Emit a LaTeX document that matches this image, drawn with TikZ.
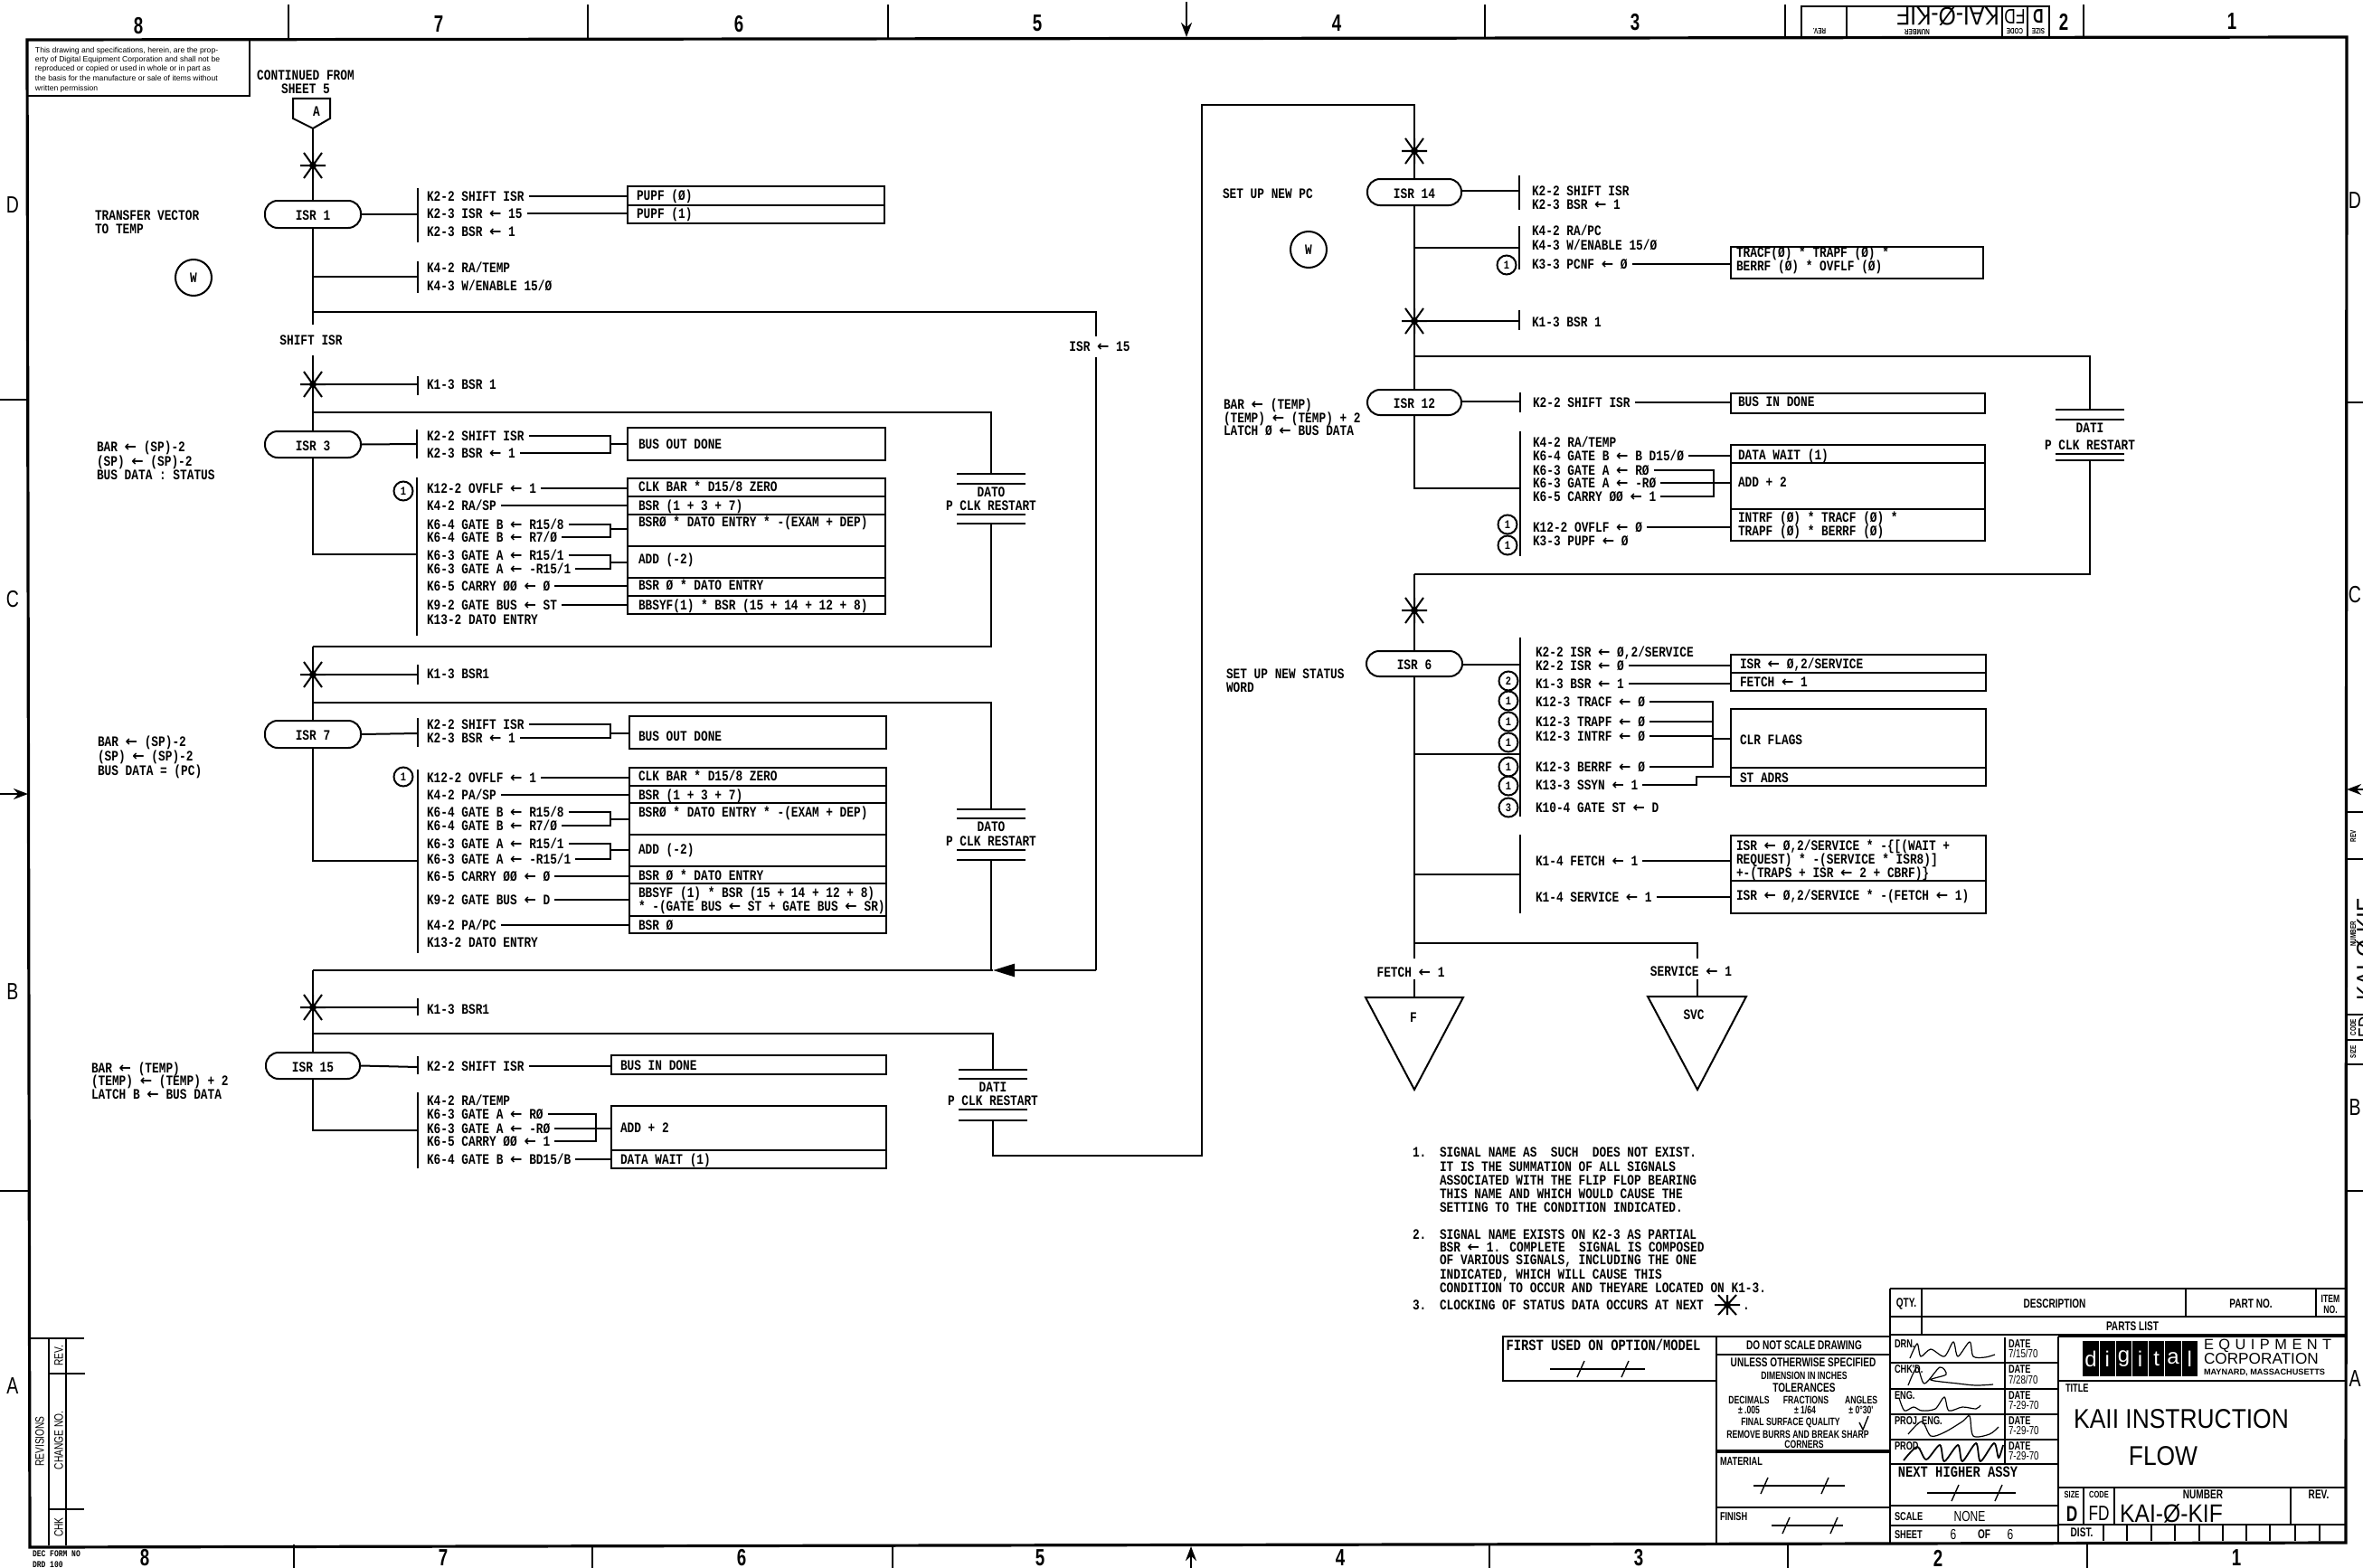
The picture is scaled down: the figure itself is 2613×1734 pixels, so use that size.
\documentclass[tikz,border=0pt]{standalone}
\usepackage{fontspec}
\usetikzlibrary{fit,arrows.meta}
\setmainfont{Liberation Sans}
\newfontfamily\drfam[FakeStretch=0.8]{Liberation Mono}
\newfontfamily\drbold[FakeStretch=0.8]{Liberation Mono Bold}
\newfontfamily\tbfam[FakeStretch=0.72]{Liberation Sans Bold}
\newfontfamily\thinfam[FakeStretch=0.75]{Liberation Sans}
\newfontfamily\titlefam[FakeStretch=0.88]{Liberation Sans}
\newfontfamily\arfam{DejaVu Sans Bold}
\catcode`\←=13
\def←{{\arfam\fontsize{8}{9}\selectfont\char"2190 }}
\newcommand\drf{\drbold\fontsize{8}{9}\selectfont}
\newcommand\drw{\drbold\fontsize{8.6}{9}\selectfont}
\newcounter{tn}
\newcommand\Tx[4][]{\stepcounter{tn}\node[#1] (t\arabic{tn}) at (#2,#3) {#4};}
\def\sigx{472}
\newcommand\sig[3]{\node[lab] (#1) at (\sigx,#2) {#3};}
\newcommand\sbar[5]{\draw (#2,#3) -- (#2,#4);\coordinate (#1) at (#2,#5);}
\newcommand\bx[5]{\node[boxn,fit={(#2,#3)(#4,#5)}] (#1) {};}
\newcommand\pl[6]{\node[pill,fit={(#2,#3)(#4,#5)}] (#1) {};\node[ctr] (#1-t) at ([yshift=-.7pt]#1.center) {#6};}
\newcommand\dv[2]{\draw (#1.west |- 0,#2) -- (#1.east |- 0,#2);}
\newcommand\asterx[2]{\draw[shift={(#1,#2)}] (-14,0) -- (14,0) (-10,-14) -- (10,14) (10,-14) -- (-10,14) (0,-14) -- (0,14);\fill[shift={(#1,#2)}] (0,0) circle (2pt);}
\newcommand\capac[7]{\draw (#2-38,#3) -- (#2+38,#3) (#2-38,#4) -- (#2+38,#4) (#2-38,#5) -- (#2+38,#5) (#2-38,#6) -- (#2+38,#6);
 \coordinate (#1-t) at (#2,#3);\coordinate (#1-b) at (#2,#6);
 \node[ctr] (#1-n) at (#2,#4+9) {#7};\node[ctr] (#1-p) at (#2,#5-10) {P CLK RESTART};}
\newcommand\brk[5]{\draw (#1.east) -- (#1.east -| #4,0) -- (#2.east -| #4,0) -- (#2.east);\coordinate (#1j) at (#4,#5);\draw (#1j) -- (#1j -| #3.west);}
\newcommand\lead[2]{\draw (#1.east) -- (#1.east -| #2.west);}
\tikzset{
 lab/.style={anchor=west,inner ysep=0pt,inner xsep=0pt,outer xsep=2.5pt,xshift=-2.5pt,text height=5.3pt,text depth=0pt,font=\drf},
 ctr/.style={inner sep=0pt,text height=5.3pt,text depth=0pt,font=\drf},
 wid/.style={inner sep=0pt,text height=5.3pt,text depth=0pt,font=\drw},
 boxn/.style={draw,inner sep=0pt},
 pill/.style={draw,inner sep=0pt,rounded corners=7pt},
 circ/.style={draw,circle,inner sep=0pt,minimum size=10.5pt,font=\drf\fontsize{6.5}{7}\selectfont},
 bigc/.style={draw,circle,inner sep=0pt,minimum size=20pt,font=\drf},
 zone/.style={inner sep=0pt,font=\thinfam\fontsize{13}{14}\selectfont},
 zoneb/.style={inner sep=0pt,font=\tbfam\fontsize{13}{14}\selectfont},
 tb/.style={inner sep=0pt,font=\tbfam\fontsize{7}{8}\selectfont},
 tbs/.style={inner sep=0pt,font=\tbfam\fontsize{6}{7}\selectfont},
 tbl/.style={inner sep=0pt,anchor=west,font=\tbfam\fontsize{6.4}{7}\selectfont},
 thn/.style={inner sep=0pt,font=\titlefam\fontsize{15}{16}\selectfont},
 thm/.style={inner sep=0pt,font=\titlefam\fontsize{14}{15}\selectfont},
 fdm/.style={inner sep=0pt,font=\thinfam\fontsize{11.5}{12}\selectfont},
 stub/.style={inner sep=0pt,font=\tbfam\fontsize{4.4}{5}\selectfont},
 rev/.style={inner sep=0pt,rotate=90,font=\thinfam\fontsize{6.8}{7}\selectfont},
 sigp/.style={line width=.6pt,smooth},
}
\begin{document}
\begin{tikzpicture}[x=0.5pt,y=-0.5pt,line width=1pt]
\fill[white] (0,0) rectangle (2613,1734);
\useasboundingbox (0,0) rectangle (2613,1734);
% frame
\draw[line width=1.6pt] (30,44) -- (2595,41) -- (2594,1706) -- (33,1711) -- cycle;
% zone ticks
\foreach \x in {319,650,982,1642,1974,2304} \draw (\x,5) -- (\x,42);
\foreach \x in {325,655,987,1647,1977,2308} \draw (\x,1708) -- (\x,1734);
\foreach \y in {442,1317} \draw (0,\y) -- (31,\y);
\foreach \y in {445,1317} \draw (2594,\y) -- (2613,\y);
\draw[-{Stealth[length=8pt,width=6pt]},line width=1.2pt] (1312,2) -- (1312,41);
\draw[-{Stealth[length=8pt,width=6pt]},line width=1.2pt] (1317,1734) -- (1317,1710);
\draw[-{Stealth[length=8pt,width=6pt]},line width=1.2pt] (0,878) -- (31,878);
\draw[-{Stealth[length=8pt,width=6pt]},line width=1.2pt] (2613,873) -- (2595,873);
\Tx[zoneb]{153}{29}{8}\Tx[zoneb]{485}{27}{7}\Tx[zoneb]{817}{27}{6}\Tx[zoneb]{1147}{26}{5}\Tx[zoneb]{1478}{26}{4}\Tx[zoneb]{1808}{25}{3}\Tx[zoneb]{2282}{24}{2}\Tx[zoneb]{2468}{24}{1}
\Tx[zoneb]{160}{1723}{8}\Tx[zoneb]{490}{1723}{7}\Tx[zoneb]{820}{1723}{6}\Tx[zoneb]{1150}{1723}{5}\Tx[zoneb]{1482}{1723}{4}\Tx[zoneb]{1812}{1723}{3}\Tx[zoneb]{2143}{1723}{2}\Tx[zoneb]{2473}{1723}{1}
\Tx[zone]{14}{227}{D}\Tx[zone]{14}{663}{C}\Tx[zone]{14}{1097}{B}\Tx[zone]{14}{1533}{A}
\Tx[zone]{2604}{222}{D}\Tx[zone]{2604}{658}{C}\Tx[zone]{2604}{1225}{B}\Tx[zone]{2604}{1525}{A}
% notice
\node[boxn,fit={(30,44)(276,106)}] (notice) {};
\foreach \y/\t [count=\i] in {56/This drawing and specifications{,} herein{,} are the prop-,66/erty of Digital Equipment Corporation and shall not be,76/reproduced or copied or used in whole or in part as,86/the basis for the manufacture or sale of items without,98/written permission}
 \node[anchor=west,inner sep=0pt,font=\fontsize{4.3}{5}\selectfont] (nt\i) at (38,\y) {\t};
% revision strip
\draw (54,1480) -- (54,1709) (73,1480) -- (73,1709);
\draw[line width=1.4pt] (33,1480) -- (93,1480);
\draw (54,1519) -- (94,1519) (54,1669) -- (93,1669);
\Tx[rev]{44}{1594}{REVISIONS}\Tx[rev]{65}{1499}{REV.}\Tx[rev]{65}{1593}{CHANGE NO.}\Tx[rev]{65}{1689}{CHK}
\Tx[inner sep=0pt,anchor=west,font=\drbold\fontsize{5}{6}\selectfont]{35}{1718}{DEC FORM NO}
\Tx[inner sep=0pt,anchor=west,font=\drbold\fontsize{5}{6}\selectfont]{35}{1730}{DRD 100}
% top stub
\draw (1992,41) -- (1992,7) -- (2266,7) -- (2266,41) (2042,7) -- (2042,41) (2214,7) -- (2214,41) (2242,7) -- (2242,41);
\Tx[stub,rotate=180]{2012}{35}{REV.}\Tx[stub,rotate=180]{2120}{35}{NUMBER}\Tx[stub,rotate=180]{2228}{35}{CODE}\Tx[stub,rotate=180]{2254}{35}{SIZE}
\Tx[thm,rotate=180]{2154}{18}{KAI-Ø-KIF}\Tx[fdm,rotate=180]{2228}{18}{FD}\Tx[tb,rotate=180,font=\tbfam\fontsize{11}{12}\selectfont]{2254}{18}{D}
% right stub
\foreach \y in {898,950,1122,1150,1177} \draw (2594,\y) -- (2613,\y);
\Tx[stub,rotate=90]{2602}{925}{REV}\Tx[stub,rotate=90]{2602}{1033}{NUMBER}\Tx[stub,rotate=90]{2602}{1136}{CODE}\Tx[stub,rotate=90]{2602}{1163}{SIZE}
\Tx[thm,rotate=90]{2616}{1050}{KAI-Ø-KIF}\Tx[fdm,rotate=90]{2616}{1136}{FD}
%% ---------- LEFT COLUMN
\Tx[ctr]{338}{83}{CONTINUED FROM}\Tx[ctr]{338}{98}{SHEET 5}
\draw (324,109) -- (365,109) -- (365,131) -- (346,142) -- (324,131) -- cycle;
\coordinate (tipA) at (346,142);
\Tx[ctr]{350}{123}{A}
% ISR 1
\pl{isr1}{293}{222}{399}{252}{ISR 1}
\draw (tipA) -- (isr1.north);
\asterx{346}{183}
\Tx[lab]{105}{238}{TRANSFER VECTOR}\Tx[lab]{105}{253}{TO TEMP}
\node[bigc] (wa) at (214,307) {W};
\sbar{s1}{462}{208}{268}{237}
\draw (isr1.east) -- (s1);
\sig{a1}{217}{K2-2 SHIFT ISR}\sig{a2}{236}{K2-3 ISR ← 15}\sig{a3}{256}{K2-3 BSR ← 1}
\bx{b1}{694}{206}{978}{247}\dv{b1}{227}
\Tx[lab]{704}{216}{PUPF (Ø)}\Tx[lab]{704}{236}{PUPF (1)}
\lead{a1}{b1}\lead{a2}{b1}
\sbar{s2}{462}{289}{324}{306}
\sig{a4}{296}{K4-2 RA/TEMP}\sig{a5}{316}{K4-3 W/ENABLE 15/Ø}
% ISR 3
\pl{isr3}{293}{477}{399}{506}{ISR 3}
\draw (isr1.south) -- (isr3.north);
\draw (s2) -- (s2 -| isr1.south);
\coordinate (jlong) at (346,345);\coordinate (jr1) at (1212,345);\coordinate (jr2) at (1212,372);\coordinate (jr3) at (1212,395);\coordinate (jr4) at (1212,1073);\coordinate (merge) at (1098,1073);\coordinate (jm) at (346,1073);
\draw (jlong) -- (jr1) -- (jr2);
\draw (jr3) -- (jr4);
\draw[line width=1.4pt,-{Triangle[length=12pt,width=7pt]}] (jr4) -- (merge);
\draw[line width=1.4pt] (merge) -- (jm);
\node[ctr] (isr15lab) at (1216,383) {ISR ← 15};
\node[ctr,fill=white,inner ysep=6pt] (shiftisr) at (344,376) {SHIFT ISR};
\asterx{346}{425}
\sbar{s3}{462}{416}{437}{425}\draw (346,425) -- (s3);
\sig{a6}{425}{K1-3 BSR 1}
\Tx[lab]{107}{494}{BAR ← (SP)-2}\Tx[lab]{107}{510}{(SP) ← (SP)-2}\Tx[lab]{107}{525}{BUS DATA : STATUS}
\coordinate (l3a) at (346,456);\coordinate (l3b) at (346,715);
\capac{c3}{1096}{524}{535}{569}{579}{DATO}
\draw (l3a) -| (c3-t);\draw (c3-b) |- (l3b);
\sbar{s4}{461}{475}{507}{491}\draw (isr3.east) -- (s4);
\sig{c1}{482}{K2-2 SHIFT ISR}\sig{c2}{501}{K2-3 BSR ← 1}
\bx{b3a}{694}{473}{979}{509}
\Tx[lab]{706}{491}{BUS OUT DONE}
\brk{c1}{c2}{b3a}{675}{491}
\sbar{s5}{461}{528}{703}{613}
\coordinate (r3) at (346,613);\draw (isr3.south) -- (r3) -- (s5);
\node[circ] (q3) at (446,543) {1};
\sig{c3a}{540}{K12-2 OVFLF ← 1}\sig{c4}{559}{K4-2 RA/SP}\sig{c5}{580}{K6-4 GATE B ← R15/8}\sig{c6}{594}{K6-4 GATE B ← R7/Ø}\sig{c7}{614}{K6-3 GATE A ← R15/1}\sig{c8}{629}{K6-3 GATE A ← -R15/1}\sig{c9}{648}{K6-5 CARRY ØØ ← Ø}\sig{c10}{669}{K9-2 GATE BUS ← ST}\sig{c11}{685}{K13-2 DATO ENTRY}
\bx{b3b}{694}{529}{979}{679}\dv{b3b}{549}\dv{b3b}{569}\dv{b3b}{604}\dv{b3b}{639}\dv{b3b}{659}
\Tx[lab]{706}{538}{CLK BAR * D15/8 ZERO}\Tx[lab]{706}{559}{BSR (1 + 3 + 7)}\Tx[lab]{706}{577}{BSRØ * DATO ENTRY * -(EXAM + DEP)}\Tx[lab]{706}{618}{ADD (-2)}\Tx[lab]{706}{647}{BSR Ø * DATO ENTRY}\Tx[lab]{706}{669}{BBSYF(1) * BSR (15 + 14 + 12 + 8)}
\lead{c3a}{b3b}\lead{c4}{b3b}\lead{c9}{b3b}\lead{c10}{b3b}
\brk{c5}{c6}{b3b}{675}{585}\brk{c7}{c8}{b3b}{675}{622}
% ISR 7
\pl{isr7}{293}{797}{399}{827}{ISR 7}
\draw (l3b) -- (isr7.north);
\asterx{346}{746}
\sbar{s6}{462}{735}{757}{746}\draw (346,746) -- (s6);
\sig{d0}{745}{K1-3 BSR1}
\Tx[lab]{108}{820}{BAR ← (SP)-2}\Tx[lab]{108}{836}{(SP) ← (SP)-2}\Tx[lab]{108}{852}{BUS DATA = (PC)}
\coordinate (l7a) at (346,777);
\capac{c7c}{1096}{895}{905}{940}{951}{DATO}
\draw (l7a) -| (c7c-t);\draw (c7c-b) -- (c7c-b |- merge);
\sbar{s7}{462}{794}{826}{811}\draw (isr7.east) -- (s7);
\sig{d1}{801}{K2-2 SHIFT ISR}\sig{d2}{816}{K2-3 BSR ← 1}
\bx{b7a}{696}{792}{980}{828}
\Tx[lab]{706}{814}{BUS OUT DONE}
\brk{d1}{d2}{b7a}{675}{811}
\sbar{s8}{462}{851}{1054}{952}
\coordinate (r7) at (346,952);\draw (isr7.south) -- (r7) -- (s8);
\node[circ] (q7) at (446,859) {1};
\sig{d3}{860}{K12-2 OVFLF ← 1}\sig{d4}{879}{K4-2 PA/SP}\sig{d5}{898}{K6-4 GATE B ← R15/8}\sig{d6}{913}{K6-4 GATE B ← R7/Ø}\sig{d7}{933}{K6-3 GATE A ← R15/1}\sig{d8}{950}{K6-3 GATE A ← -R15/1}\sig{d9}{969}{K6-5 CARRY ØØ ← Ø}\sig{d10}{995}{K9-2 GATE BUS ← D}\sig{d11}{1023}{K4-2 PA/PC}\sig{d12}{1042}{K13-2 DATO ENTRY}
\bx{b7b}{696}{849}{980}{1032}\dv{b7b}{869}\dv{b7b}{888}\dv{b7b}{923}\dv{b7b}{958}\dv{b7b}{977}\dv{b7b}{1013}
\Tx[lab]{706}{858}{CLK BAR * D15/8 ZERO}\Tx[lab]{706}{879}{BSR (1 + 3 + 7)}\Tx[lab]{706}{898}{BSRØ * DATO ENTRY * -(EXAM + DEP)}\Tx[lab]{706}{939}{ADD (-2)}\Tx[lab]{706}{968}{BSR Ø * DATO ENTRY}\Tx[lab]{706}{987}{BBSYF (1) * BSR (15 + 14 + 12 + 8)}\Tx[lab]{706}{1002}{* -(GATE BUS ← ST + GATE BUS ← SR)}\Tx[lab]{706}{1023}{BSR Ø}
\lead{d3}{b7b}\lead{d4}{b7b}\lead{d9}{b7b}\lead{d10}{b7b}\lead{d11}{b7b}
\brk{d5}{d6}{b7b}{675}{906}\brk{d7}{d8}{b7b}{675}{940}
% ISR 15
\pl{isr15}{294}{1164}{398}{1193}{ISR 15}
\draw (jm) -- (isr15.north);
\asterx{346}{1114}
\sbar{s9}{462}{1104}{1123}{1114}\draw (346,1114) -- (s9);
\sig{e0}{1116}{K1-3 BSR1}
\Tx[lab]{101}{1181}{BAR ← (TEMP)}\Tx[lab]{101}{1195}{(TEMP) ← (TEMP) + 2}\Tx[lab]{101}{1210}{LATCH B ← BUS DATA}
\coordinate (l15a) at (346,1143);
\capac{c15}{1098}{1183}{1193}{1227}{1239}{DATI}
\draw (l15a) -| (c15-t);
\coordinate (e1c) at (1329,1278);\coordinate (e2c) at (1329,116);
\sbar{s10}{462}{1168}{1188}{1180}\draw (isr15.east) -- (s10);
\sig{e1}{1179}{K2-2 SHIFT ISR}
\bx{b15a}{676}{1167}{980}{1188}
\Tx[lab]{686}{1178}{BUS IN DONE}
\lead{e1}{b15a}
\sbar{s11}{462}{1208}{1292}{1250}
\coordinate (r15) at (346,1250);\draw (isr15.south) -- (r15) -- (s11);
\sig{e2}{1217}{K4-2 RA/TEMP}\sig{e3}{1232}{K6-3 GATE A ← RØ}\sig{e4}{1248}{K6-3 GATE A ← -RØ}\sig{e5}{1262}{K6-5 CARRY ØØ ← 1}\sig{e6}{1282}{K6-4 GATE B ← BD15/B}
\bx{b15b}{676}{1223}{980}{1292}\dv{b15b}{1272}
\Tx[lab]{686}{1247}{ADD + 2}\Tx[lab]{686}{1282}{DATA WAIT (1)}
\lead{e4}{b15b}\lead{e6}{b15b}
\draw (e3.east) -- (e3.east -| 659,0) -- (e5.east -| 659,0) -- (e5.east);
%% ---------- RIGHT COLUMN
\pl{isr14}{1512}{198}{1616}{227}{ISR 14}
\draw (c15-b) |- (e1c) -- (e2c) -| (isr14.north);
\asterx{1564}{167}
\Tx[lab]{1352}{214}{SET UP NEW PC}
\node[bigc] (wb) at (1447,276) {W};
\def\sigx{1694}
\sbar{t1}{1680}{194}{232}{211}\draw (isr14.east |- t1) -- (t1);
\sig{f1}{211}{K2-2 SHIFT ISR}\sig{f2}{226}{K2-3 BSR ← 1}
\sbar{t2}{1680}{250}{298}{274}
\sig{f3}{255}{K4-2 RA/PC}\sig{f4}{271}{K4-3 W/ENABLE 15/Ø}\sig{f5}{292}{K3-3 PCNF ← Ø}
\node[circ] (q14) at (1666,293) {1};
\bx{b14}{1914}{273}{2193}{308}
\Tx[lab]{1920}{279}{TRACF(Ø) * TRAPF (Ø) *}\Tx[lab]{1920}{294}{BERRF (Ø) * OVFLF (Ø)}
\lead{f5}{b14}
\pl{isr12}{1512}{431}{1616}{459}{ISR 12}
\draw (isr14.south) -- (isr12.north);
\draw (t2) -- (t2 -| isr14.south);
\asterx{1564}{355}
\sbar{t3}{1680}{343}{365}{355}\draw (1564,355) -- (t3);
\sig{f6}{356}{K1-3 BSR 1}
\coordinate (l12a) at (1564,394);\coordinate (l12b) at (1564,635);
\capac{c12}{2311}{453}{464}{502}{509}{DATI}
\draw (l12a) -| (c12-t);\draw (c12-b) |- (l12b);
\Tx[lab]{1353}{447}{BAR ← (TEMP)}\Tx[lab]{1353}{462}{(TEMP) ← (TEMP) + 2}\Tx[lab]{1353}{476}{LATCH Ø ← BUS DATA}
\sbar{t4}{1681}{434}{456}{444}\draw (isr12.east |- t4) -- (t4);
\def\sigx{1695}
\sig{g1}{445}{K2-2 SHIFT ISR}
\bx{b12a}{1914}{435}{2195}{457}
\Tx[lab]{1922}{444}{BUS IN DONE}
\lead{g1}{b12a}
\sbar{t5}{1681}{477}{615}{540}
\coordinate (r12) at (1564,540);\draw (isr12.south) -- (r12) -- (t5);
\sig{g2}{489}{K4-2 RA/TEMP}\sig{g3}{504}{K6-4 GATE B ← B D15/Ø}\sig{g4}{520}{K6-3 GATE A ← RØ}\sig{g5}{534}{K6-3 GATE A ← -RØ}\sig{g6}{549}{K6-5 CARRY ØØ ← 1}\sig{g7}{583}{K12-2 OVFLF ← Ø}\sig{g8}{598}{K3-3 PUPF ← Ø}
\bx{b12b}{1914}{492}{2195}{598}\dv{b12b}{512}\dv{b12b}{563}
\Tx[lab]{1922}{503}{DATA WAIT (1)}\Tx[lab]{1922}{533}{ADD + 2}\Tx[lab]{1922}{572}{INTRF (Ø) * TRACF (Ø) *}\Tx[lab]{1922}{587}{TRAPF (Ø) * BERRF (Ø)}
\lead{g3}{b12b}\lead{g5}{b12b}\lead{g7}{b12b}
\draw (g4.east) -- (g4.east -| 1895,0) -- (g6.east -| 1895,0) -- (g6.east);
\node[circ] (q12a) at (1667,580) {1};\node[circ] (q12b) at (1667,603) {1};
% ISR 6
\pl{isr6}{1511}{720}{1617}{748}{ISR 6}
\draw (l12b) -- (isr6.north);
\asterx{1564}{675}
\Tx[lab]{1356}{745}{SET UP NEW STATUS}\Tx[lab]{1356}{760}{WORD}
\sbar{t6}{1681}{705}{903}{834}
\draw (isr6.east |- 0,735) -- (1681,735);
\def\sigx{1698}
\sig{h1}{721}{K2-2 ISR ← Ø,2/SERVICE}\sig{h2}{736}{K2-2 ISR ← Ø}\sig{h3}{756}{K1-3 BSR ← 1}\sig{h4}{776}{K12-3 TRACF ← Ø}\sig{h5}{798}{K12-3 TRAPF ← Ø}\sig{h6}{814}{K12-3 INTRF ← Ø}\sig{h7}{848}{K12-3 BERRF ← Ø}\sig{h8}{868}{K13-3 SSYN ← 1}\sig{h9}{893}{K10-4 GATE ST ← D}
\foreach \y/\t [count=\i] in {753/2,775/1,798/1,821/1,848/1,869/1,893/3} \node[circ] (qs\i) at (1668,\y) {\t};
\bx{b6a}{1914}{724}{2196}{764}\dv{b6a}{744}
\Tx[lab]{1924}{734}{ISR ← Ø,2/SERVICE}\Tx[lab]{1924}{754}{FETCH ← 1}
\lead{h2}{b6a}\lead{h3}{b6a}
\bx{b6b}{1914}{784}{2196}{869}\dv{b6b}{849}
\Tx[lab]{1924}{818}{CLR FLAGS}\Tx[lab]{1924}{860}{ST ADRS}
\draw (h4.east) -- (h4.east -| 1894,0) -- (h7.east -| 1894,0) -- (h7.east);
\draw (h5.east) -- (h5.east -| 1894,0) (h6.east) -- (h6.east -| 1894,0);
\coordinate (hj) at (1894,817);\draw (hj) -- (hj -| b6b.west);
\coordinate (hs1) at (1876,859);
\draw (h8.east) -- (h8.east -| hs1) -- (hs1) -- (hs1 -| b6b.west);
\sbar{t7}{1681}{923}{1010}{967}
\sig{h10}{952}{K1-4 FETCH ← 1}\sig{h11}{992}{K1-4 SERVICE ← 1}
\bx{b6c}{1914}{924}{2196}{1010}\dv{b6c}{974}
\Tx[lab]{1920}{935}{ISR ← Ø,2/SERVICE * -\{[(WAIT +}\Tx[lab]{1920}{950}{REQUEST) * -(SERVICE * ISR8)]}\Tx[lab]{1920}{965}{+-(TRAPS + ISR ← 2 + CBRF)\}}\Tx[lab]{1920}{990}{ISR ← Ø,2/SERVICE * -(FETCH ← 1)}
\lead{h10}{b6c}\lead{h11}{b6c}
\coordinate (tee) at (1564,1043);\coordinate (teer) at (1877,1043);\coordinate (fa) at (1564,1060);\coordinate (fb) at (1564,1083);\coordinate (fc) at (1564,1103);\coordinate (sa) at (1877,1060);\coordinate (sb) at (1877,1083);\coordinate (sc) at (1877,1102);
\draw (isr6.south) -- (tee) -- (fa);
\draw (t6) -- (t6 -| isr6.south);\draw (t7) -- (t7 -| isr6.south);
\draw (tee) -- (teer) -- (sa);
\draw (fb) -- (fc);\draw (sb) -- (sc);
\node[ctr] (fetchl) at (1560,1075) {FETCH ← 1};\node[ctr] (servl) at (1870,1074) {SERVICE ← 1};
\draw (1510,1103) -- (1618,1103) -- (1564,1205) -- cycle;
\draw (1822,1102) -- (1931,1102) -- (1877,1205) -- cycle;
\node[ctr] (ftri) at (1563,1125) {F};\node[ctr] (stri) at (1873,1122) {SVC};
% notes
\Tx[lab]{1562}{1274}{1.}\Tx[lab]{1562}{1365}{2.}\Tx[lab]{1562}{1443}{3.}
\foreach \y/\t [count=\i] in {1274/SIGNAL NAME AS\ \ SUCH\ \ DOES NOT EXIST.,1290/IT IS THE SUMMATION OF ALL SIGNALS,1305/ASSOCIATED WITH THE FLIP FLOP BEARING,1320/THIS NAME AND WHICH WOULD CAUSE THE,1335/SETTING TO THE CONDITION INDICATED.,1365/SIGNAL NAME EXISTS ON K2-3 AS PARTIAL,1379/BSR ← 1. COMPLETE\ \ SIGNAL IS COMPOSED,1393/OF VARIOUS SIGNALS{,} INCLUDING THE ONE,1409/INDICATED{,} WHICH WILL CAUSE THIS,1424/CONDITION TO OCCUR AND THEYARE LOCATED ON K1-3.,1443/CLOCKING OF STATUS DATA OCCURS AT NEXT}
 \node[lab] (note\i) at (1592,\y) {\t};
\draw[shift={(1910,1443)}] (-14,0) -- (14,0) (-10,-11) -- (10,11) (10,-11) -- (-10,11) (0,-11) -- (0,11);
\fill (1910,1443) circle (2pt);
\Tx[lab]{1927}{1443}{.}
%% ---------- TITLE BLOCK
\begin{scope}[line width=1.3pt]
\draw (2090,1425) -- (2594,1425);
\draw (2090,1425) -- (2090,1706);
\draw (2090,1456) -- (2594,1456) (2090,1476) -- (2594,1476);
\draw (2125,1425) -- (2125,1476) (2417,1425) -- (2417,1456) (2561,1425) -- (2561,1456);
\node[boxn,fit={(1662,1478)(1898,1527)}] (fu) {};
\draw (1898,1478) -- (2090,1478) (1898,1478) -- (1898,1706) (1898,1498) -- (2090,1498) (1898,1667) -- (2090,1667);
\draw[line width=2.4pt] (1898,1605) -- (2090,1605);
\foreach \y in {1507,1536,1564,1592,1619,1665,1687} \draw (2090,\y) -- (2276,\y);
\draw (2217,1479) -- (2217,1619);
\draw (2276,1478) -- (2276,1706) (2276,1478) -- (2594,1478) (2276,1527) -- (2594,1527) (2276,1645) -- (2594,1645) (2276,1686) -- (2594,1686);
\draw (2304,1645) -- (2304,1686) (2338,1645) -- (2338,1686) (2533,1645) -- (2533,1686);
\foreach \x in {2326,2352,2379,2405,2432,2458,2484,2510,2538,2565} \draw (\x,1686) -- (\x,1704);
\end{scope}
\Tx[tb]{2108}{1442}{QTY.}\Tx[tb]{2272}{1442}{DESCRIPTION}\Tx[tb]{2489}{1442}{PART NO.}\Tx[tbs]{2577}{1436}{ITEM}\Tx[tbs]{2577}{1448}{NO.}\Tx[tb]{2358}{1467}{PARTS LIST}
\Tx[wid]{1773}{1488}{FIRST USED ON OPTION/MODEL}
\Tx[tb]{1995}{1488}{DO NOT SCALE DRAWING}\Tx[tb]{1994}{1507}{UNLESS OTHERWISE SPECIFIED}\Tx[tbs]{1995}{1521}{DIMENSION IN INCHES}\Tx[tb]{1995}{1535}{TOLERANCES}
\Tx[tbs]{1934}{1548}{DECIMALS}\Tx[tbs]{1997}{1548}{FRACTIONS}\Tx[tbs]{2058}{1548}{ANGLES}
\Tx[tbs]{1934}{1559}{± .005}\Tx[tbs]{1996}{1559}{± 1/64}\Tx[tbs]{2058}{1559}{± 0°30'}
\Tx[tbs]{1980}{1573}{FINAL SURFACE QUALITY}\Tx[tbs]{1988}{1586}{REMOVE BURRS AND BREAK SHARP}\Tx[tbs]{1995}{1597}{CORNERS}
\draw[line width=.7pt] (2056,1573) -- (2060,1581) -- (2066,1566);
\Tx[tbl]{1901}{1616}{MATERIAL}\Tx[tbl]{1901}{1677}{FINISH}
% tie-off marks
\foreach \xa/\xb/\xc/\xd/\y in {1714/1819/1748/1797/1514,1939/2040/1951/2018/1643,1959/2038/1975/2028/1687,2131/2229/2162/2210/1651} {
 \draw (\xa,\y) -- (\xb,\y);
 \draw[line width=.7pt] (\xc-4,\y+9) -- (\xc+4,\y-9) (\xd-4,\y+9) -- (\xd+4,\y-9);
}
\Tx[tbl]{2094}{1486}{DRN.}\Tx[tbl]{2094}{1514}{CHK'D.}\Tx[tbl]{2094}{1543}{ENG.}\Tx[tbl]{2094}{1571}{PROJ. ENG.}\Tx[tbl]{2094}{1599}{PROD.}
\node[anchor=west,inner sep=0pt,font=\thinfam\fontsize{6.5}{7}\selectfont] (dv1) at (2220,1497) {7/15/70};
\node[anchor=west,inner sep=0pt,font=\thinfam\fontsize{6.5}{7}\selectfont] (dv2) at (2220,1526) {7/28/70};
\node[anchor=west,inner sep=0pt,font=\thinfam\fontsize{6.5}{7}\selectfont] (dv3) at (2220,1554) {7-29-70};
\node[anchor=west,inner sep=0pt,font=\thinfam\fontsize{6.5}{7}\selectfont] (dv4) at (2220,1582) {7-29-70};
\node[anchor=west,inner sep=0pt,font=\thinfam\fontsize{6.5}{7}\selectfont] (dv5) at (2220,1610) {7-29-70};
\foreach \y [count=\i] in {1486,1514,1543,1571,1599} \node[tbl] (dl\i) at (2220,\y) {DATE};
% signatures
\draw[sigp] plot coordinates {(2112,1502) (2120,1486) (2124,1500) (2135,1492) (2150,1500) (2160,1484) (2165,1500) (2178,1484) (2182,1500) (2195,1501) (2206,1498)};
\draw[sigp] plot coordinates {(2110,1532) (2120,1512) (2128,1530) (2145,1512) (2152,1520) (2135,1526) (2165,1530) (2185,1532) (2204,1531)};
\draw[sigp] plot coordinates {(2100,1546) (2106,1560) (2116,1556) (2125,1560) (2140,1558) (2150,1545) (2155,1560) (2170,1556) (2185,1558) (2190,1554)};
\draw[sigp] plot coordinates {(2110,1586) (2125,1572) (2135,1588) (2150,1584) (2170,1572) (2178,1566) (2182,1588) (2200,1586) (2210,1578)};
\draw[sigp,line width=.9pt] plot coordinates {(2105,1615) (2120,1600) (2130,1614) (2145,1598) (2150,1616) (2165,1598) (2170,1616) (2185,1596) (2190,1616) (2205,1596) (2210,1612) (2215,1598)};
\Tx[wid]{2165}{1628}{NEXT HIGHER ASSY}
\Tx[tbl]{2094}{1677}{SCALE}\Tx[thn,font=\thinfam\fontsize{8}{9}\selectfont]{2178}{1677}{NONE}
\Tx[tbl]{2094}{1697}{SHEET}\Tx[thn,font=\thinfam\fontsize{8}{9}\selectfont]{2160}{1697}{6}\Tx[tb]{2194}{1697}{OF}\Tx[thn,font=\thinfam\fontsize{8}{9}\selectfont]{2223}{1697}{6}
% logo
\foreach \l [count=\i] in {d,i,g,i,t,a,l}
 \node[fill=black,text=white,inner sep=0pt,minimum width=8.6pt,minimum height=19.5pt,font=\fontsize{12}{13}\selectfont] (lg\i) at ({2312+(\i-1)*18.2},1502.5) {\l};
\Tx[anchor=west,inner sep=0pt,font=\fontsize{8.2}{9}\selectfont]{2436}{1488}{E\,\,Q\,\,U\,\,I\,\,P\,\,M\,\,E\,\,N\,\,T}
\Tx[anchor=west,inner sep=0pt,font=\fontsize{8.6}{9}\selectfont]{2436}{1503}{CORPORATION}
\Tx[anchor=west,inner sep=0pt,font=\bfseries\fontsize{4.6}{5}\selectfont]{2436}{1518}{MAYNARD, MASSACHUSETTS}
\Tx[tbl]{2283}{1535}{TITLE}
\Tx[thn]{2412}{1569}{KAII INSTRUCTION}\Tx[thn]{2392}{1610}{FLOW}
\Tx[tbs,font=\tbfam\fontsize{5.2}{6}\selectfont]{2291}{1653}{SIZE}\Tx[tbs,font=\tbfam\fontsize{5.2}{6}\selectfont]{2321}{1653}{CODE}\Tx[tb]{2436}{1653}{NUMBER}\Tx[tb]{2564}{1653}{REV.}
\Tx[tb,font=\tbfam\fontsize{12}{13}\selectfont]{2291}{1674}{D}\Tx[fdm]{2321}{1674}{FD}\Tx[thm]{2401}{1674}{KAI-Ø-KIF}
\Tx[tb]{2302}{1695}{DIST.}
\end{tikzpicture}
\end{document}
